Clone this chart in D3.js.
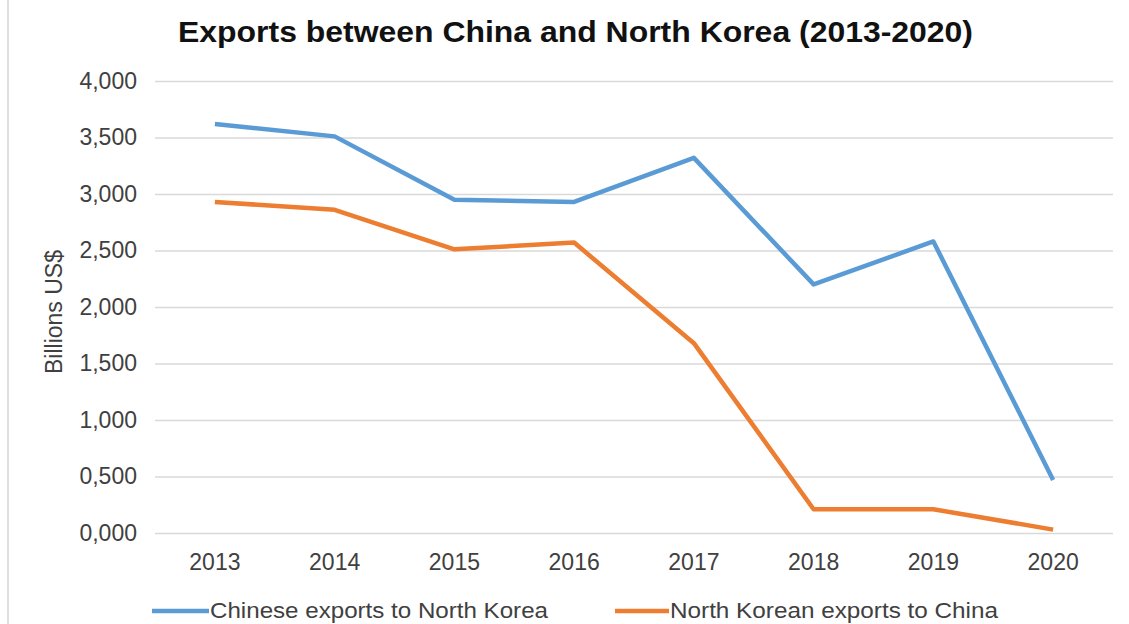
<!DOCTYPE html>
<html>
<head>
<meta charset="utf-8">
<script src="https://cdn.jsdelivr.net/npm/d3@7"></script>
<style>
  body { margin: 0; background: #fff; }
  svg { display: block; }
</style>
</head>
<body>
<svg id="chart"></svg>
<script>
const years = ["2013", "2014", "2015", "2016", "2017", "2018", "2019", "2020"];
const chineseExports = [3.62, 3.51, 2.95, 2.93, 3.32, 2.20, 2.58, 0.47];
const northKoreanExports = [2.93, 2.86, 2.51, 2.57, 1.68, 0.21, 0.21, 0.03];
const yTicks = [0, 0.5, 1, 1.5, 2, 2.5, 3, 3.5, 4];
const seriesNames = ["Chinese exports to North Korea", "North Korean exports to China"];
const colors = ["#5b9bd5", "#ed7d31"];

const width = 1129;
const height = 624;
const plotLeft = 155, plotRight = 1113, plotTop = 81, plotBottom = 533;
const font = "'Liberation Sans', Arial, sans-serif";

const svg = d3.select("#chart")
  .attr("width", width)
  .attr("height", height);

// thin border on the left edge of the original picture
svg.append("line")
  .attr("x1", 8).attr("x2", 8)
  .attr("y1", 0).attr("y2", height)
  .attr("stroke", "#d4d4d4")
  .attr("stroke-width", 1.5);

const xScale = d3.scaleBand()
  .domain(years)
  .range([plotLeft, plotRight]);

const yScale = d3.scaleLinear()
  .domain([0, 4])
  .range([plotBottom, plotTop]);

const locale = d3.formatLocale({ decimal: ",", thousands: ".", grouping: [3], currency: ["", "$"] });
const fmt = locale.format(".3f");

const yAxis = d3.axisLeft(yScale)
  .tickValues(yTicks)
  .tickFormat(fmt)
  .tickSize(-(plotRight - plotLeft))
  .tickPadding(18);

const gy = svg.append("g")
  .attr("transform", "translate(" + plotLeft + ",0)")
  .call(yAxis);
gy.select(".domain").remove();
gy.selectAll(".tick line")
  .attr("stroke", "#d9d9d9")
  .attr("stroke-width", 1.5);
gy.selectAll(".tick text")
  .attr("font-family", font)
  .attr("font-size", 23)
  .attr("fill", "#404040");

const xAxis = d3.axisBottom(xScale)
  .tickSize(0)
  .tickPadding(21);

const gx = svg.append("g")
  .attr("transform", "translate(0," + plotBottom + ")")
  .call(xAxis);
gx.select(".domain").remove();
gx.selectAll(".tick text")
  .attr("font-family", font)
  .attr("font-size", 23)
  .attr("fill", "#404040");

const line = d3.line()
  .x((d, i) => xScale(years[i]) + xScale.bandwidth() / 2)
  .y(d => yScale(d));

[chineseExports, northKoreanExports].forEach((series, k) => {
  svg.append("path")
    .datum(series)
    .attr("fill", "none")
    .attr("stroke", colors[k])
    .attr("stroke-width", 4.5)
    .attr("stroke-linejoin", "round")
    .attr("d", line);
});

svg.append("text")
  .attr("x", 178)
  .attr("y", 42)
  .attr("font-family", font)
  .attr("font-size", 30)
  .attr("font-weight", "bold")
  .attr("fill", "#111")
  .attr("textLength", 795)
  .attr("lengthAdjust", "spacingAndGlyphs")
  .text("Exports between China and North Korea (2013-2020)");

svg.append("text")
  .attr("transform", "rotate(-90)")
  .attr("x", -312)
  .attr("y", 62)
  .attr("font-family", font)
  .attr("font-size", 23)
  .attr("fill", "#404040")
  .style("text-anchor", "middle")
  .text("Billions US$");

// legend along the bottom edge
const legendX = [152, 615];
const legendLineLen = [57, 54];
const legendTextLen = [338, 328];
seriesNames.forEach((name, k) => {
  const g = svg.append("g")
    .attr("transform", "translate(" + legendX[k] + ",611)");
  g.append("line")
    .attr("x1", 0).attr("x2", legendLineLen[k])
    .attr("y1", 0).attr("y2", 0)
    .attr("stroke", colors[k])
    .attr("stroke-width", 4.5);
  g.append("text")
    .attr("x", legendLineLen[k] + 1)
    .attr("y", 7)
    .attr("font-family", font)
    .attr("font-size", 22)
    .attr("fill", "#404040")
    .attr("textLength", legendTextLen[k])
    .attr("lengthAdjust", "spacingAndGlyphs")
    .text(name);
});
</script>
</body>
</html>
